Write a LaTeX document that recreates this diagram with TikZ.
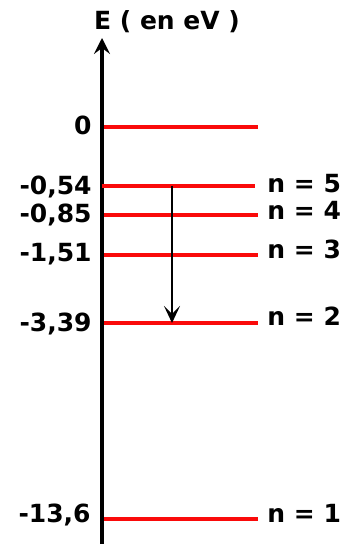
\documentclass[tikz,border=0pt]{standalone}
\usepackage{fontspec}
\setmainfont{DejaVu Sans}
\usetikzlibrary{arrows.meta, positioning}
\definecolor{levelred}{RGB}{250,10,10}

\begin{document}
\begin{tikzpicture}[
    x=0.5pt, y=-0.5pt,
    lbl/.style={inner sep=0pt, font=\bfseries\fontsize{12.5}{15}\selectfont},
    energy/.style={lbl, anchor=base east},
    state/.style={lbl, anchor=base west},
    level/.style={draw=levelred, line width=1.7pt},
    axis/.style={-{Stealth[length=8pt, width=8pt, inset=3pt]}, line width=1.9pt},
    arrow/.style={-{Stealth[length=8.5pt, width=8pt, inset=4pt]}, line width=0.7pt}
  ]
    \useasboundingbox (0,0) rectangle (344,544);
    % axe des energies
    \coordinate (bas) at (102,546);
    \coordinate (haut) at (102,38);
    \draw[axis] (bas) -- (haut);
    \node[lbl, anchor=base] (titre) at (167,30) {E ( en eV )};

    % niveaux
    \coordinate (l0) at (104,127);
    \coordinate (l5) at (102,186);
    \coordinate (l4) at (104,215);
    \coordinate (l3) at (104,255);
    \coordinate (l2) at (104,323);
    \coordinate (l1) at (104,519);
    \draw[level] (l0) -- ++(154,0);
    \draw[level] (l5) -- ++(153,0);
    \draw[level] (l4) -- ++(154,0);
    \draw[level] (l3) -- ++(154,0);
    \draw[level] (l2) -- ++(154,0);
    \draw[level] (l1) -- ++(154,0);

    \node[energy] (e0) at (92,135) {0};
    \node[energy] (e5) at (92,195) {-0,54};
    \node[energy] (e4) at (92,223) {-0,85};
    \node[energy] (e3) at (92,262) {-1,51};
    \node[energy] (e2) at (92,331) {-3,39};
    \node[energy] (e1) at (91,522) {-13,6};

    \node[state] (n5) at (267,193) {n = 5};
    \node[state] (n4) at (267,220) {n = 4};
    \node[state] (n3) at (267,259) {n = 3};
    \node[state] (n2) at (267,325) {n = 2};
    \node[state] (n1) at (267,522) {n = 1};

    % transition 5 -> 2
    \coordinate (t5) at (172,186);
    \coordinate (t2) at (172,323);
    \draw[arrow] (t5) -- (t2);
  \end{tikzpicture}
\end{document}
